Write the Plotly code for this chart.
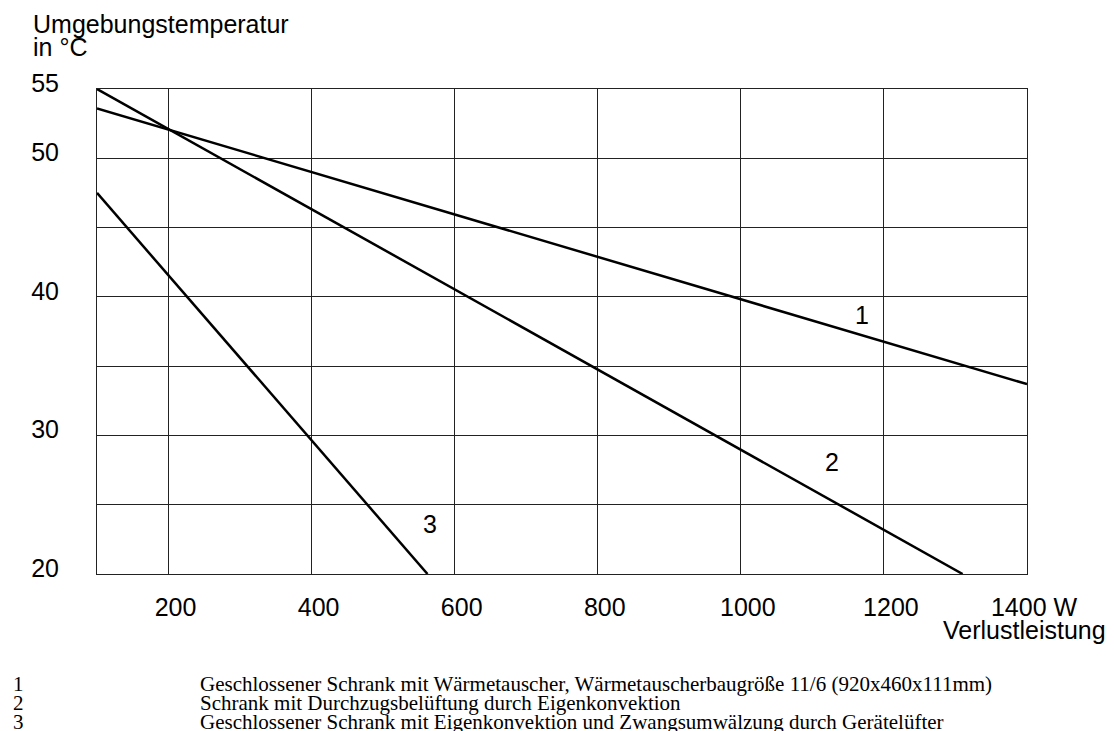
import plotly.graph_objects as go

# Data
power_1 = [100, 1400]
temp_1 = [53.6, 33.7]
power_2 = [100, 1310]
temp_2 = [55.0, 20.0]
power_3 = [100, 562]
temp_3 = [47.5, 20.0]

x_ticks = [200, 400, 600, 800, 1000, 1200, 1400]
x_ticktext = ["200", "400", "600", "800", "1000", "1200", "1400 W"]
y_ticks = [20, 25, 30, 35, 40, 45, 50, 55]
y_ticktext = ["20", "", "30", "", "40", "", "50", "55"]

curve_labels = ["1", "2", "3"]
curve_label_x = [1170, 1127, 565]
curve_label_y = [38.7, 28.1, 23.6]

legend_numbers = ["1", "2", "3"]
legend_texts = [
    "Geschlossener Schrank mit Wärmetauscher, Wärmetauscherbaugröße 11/6 (920x460x111mm)",
    "Schrank mit Durchzugsbelüftung durch Eigenkonvektion",
    "Geschlossener Schrank mit Eigenkonvektion und Zwangsumwälzung durch Gerätelüfter",
]

OFF = 8  # page body margin
W, H = 1114 - OFF, 731 - OFF
# plot area in window pixels
L, R, T, B = 96.5 - OFF, 1026.7 - OFF, 88.7 - OFF, 574.0 - OFF


def px_x(p):
    return (p - OFF - L) / (R - L)


def px_y(p):
    return (B - (p - OFF)) / (B - T)


fig = go.Figure()
for xs, ys in [(power_1, temp_1), (power_2, temp_2), (power_3, temp_3)]:
    fig.add_trace(go.Scatter(x=xs, y=ys, mode="lines",
                             line=dict(color="black", width=2.5),
                             showlegend=False, hoverinfo="skip"))

sans = "Liberation Sans, Arial, sans-serif"
serif = "Liberation Serif, Times New Roman, serif"
FS = 25
LFS = 21

annotations = []
for t, x, y in zip(curve_labels, curve_label_x, curve_label_y):
    annotations.append(dict(x=x, y=y, xref="x", yref="y", text=t, showarrow=False,
                            font=dict(family=sans, size=FS, color="black")))

annotations.append(dict(x=px_x(30), y=px_y(24), xref="paper", yref="paper",
                        text="Umgebungstemperatur", showarrow=False,
                        xanchor="left", yanchor="middle", align="left",
                        font=dict(family=sans, size=FS, color="black")))
annotations.append(dict(x=px_x(30), y=px_y(47), xref="paper", yref="paper",
                        text="in °C", showarrow=False,
                        xanchor="left", yanchor="middle", align="left",
                        font=dict(family=sans, size=FS, color="black")))
annotations.append(dict(x=px_x(1108), y=px_y(630), xref="paper", yref="paper",
                        text="Verlustleistung", showarrow=False,
                        xanchor="right", yanchor="middle",
                        font=dict(family=sans, size=FS, color="black")))

legend_y = [684, 703, 722]
for n, t, yy in zip(legend_numbers, legend_texts, legend_y):
    annotations.append(dict(x=px_x(10), y=px_y(yy), xref="paper", yref="paper",
                            text=n, showarrow=False, xanchor="left", yanchor="middle",
                            font=dict(family=serif, size=LFS, color="black")))
    annotations.append(dict(x=px_x(198), y=px_y(yy), xref="paper", yref="paper",
                            text=t, showarrow=False, xanchor="left", yanchor="middle",
                            font=dict(family=serif, size=LFS, color="black")))

fig.update_layout(
    width=W, height=H,
    margin=dict(l=L, r=W - R, t=T, b=H - B, pad=0),
    paper_bgcolor="white", plot_bgcolor="white",
    annotations=annotations,
    font=dict(family=sans, size=FS, color="black"),
)
fig.update_xaxes(range=[100, 1400], tickvals=x_ticks, ticktext=x_ticktext,
                 showgrid=True, gridcolor="#222", gridwidth=1,
                 showline=True, linecolor="#222", linewidth=1, mirror=True,
                 ticks="", zeroline=False, ticklabelstandoff=11, ticklabelshift=7,
                 tickfont=dict(family=sans, size=FS, color="black"))
fig.update_yaxes(range=[20, 55], tickvals=y_ticks, ticktext=y_ticktext,
                 showgrid=True, gridcolor="#222", gridwidth=1,
                 showline=True, linecolor="#222", linewidth=1, mirror=True,
                 ticks="", zeroline=False, ticklabelstandoff=32, ticklabelshift=-6,
                 tickfont=dict(family=sans, size=FS, color="black"))

fig.write_html("out.html")
